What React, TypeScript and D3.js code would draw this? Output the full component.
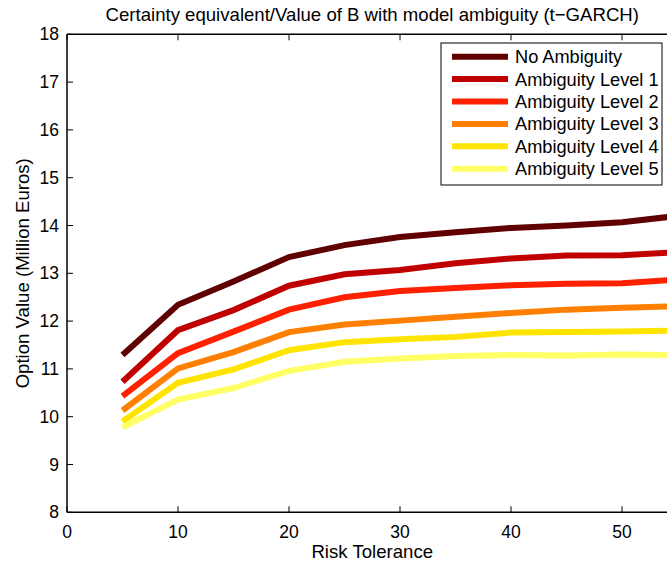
import React from "react";
import * as d3 from "d3";

const riskTolerance = [5, 10, 15, 20, 25, 30, 35, 40, 45, 50, 55];
const noAmbiguity = [11.29, 12.34, 12.83, 13.34, 13.59, 13.76, 13.86, 13.95, 14.0, 14.07, 14.2];
const level1 = [10.73, 11.81, 12.23, 12.74, 12.98, 13.07, 13.21, 13.31, 13.37, 13.38, 13.44];
const level2 = [10.43, 11.33, 11.78, 12.24, 12.5, 12.63, 12.69, 12.75, 12.78, 12.79, 12.87];
const level3 = [10.13, 11.01, 11.35, 11.77, 11.93, 12.01, 12.09, 12.17, 12.24, 12.28, 12.31];
const level4 = [9.9, 10.71, 10.99, 11.39, 11.56, 11.62, 11.67, 11.76, 11.77, 11.78, 11.8];
const level5 = [9.78, 10.36, 10.6, 10.96, 11.15, 11.22, 11.27, 11.29, 11.28, 11.3, 11.29];

const seriesNames = [
  "No Ambiguity",
  "Ambiguity Level 1",
  "Ambiguity Level 2",
  "Ambiguity Level 3",
  "Ambiguity Level 4",
  "Ambiguity Level 5",
];
const seriesValues = [noAmbiguity, level1, level2, level3, level4, level5];
const seriesColors = ["#600000", "#c00000", "#ff2000", "#ff8000", "#ffe400", "#ffff66"];

const xTicks = [0, 10, 20, 30, 40, 50];
const yTicks = [8, 9, 10, 11, 12, 13, 14, 15, 16, 17, 18];

const W = 667;
const H = 567;
const FONT = "'Liberation Sans', Arial, Helvetica, sans-serif";

export default function App() {
  const left = 67;
  const top = 34.3;
  const bottom = 512.3;
  const right = 677.5;
  const x = d3.scaleLinear().domain([0, 55]).range([left, right]);
  const y = d3.scaleLinear().domain([8, 18]).range([bottom, top]);
  const line = d3
    .line<[number, number]>()
    .x((d) => x(d[0]))
    .y((d) => y(d[1]));

  const legX = 441;
  const legY = 43;
  const legW = 221;
  const legH = 142;
  const rowH = 22.4;

  return (
    <svg
      width={W}
      height={H}
      style={{ position: "absolute", left: 0, top: 0, background: "#fff" }}
      fontFamily={FONT}
    >
      <rect x={0} y={0} width={W} height={H} fill="#fff" />
      <text x={(left + right) / 2} y={21} fontSize={18.6} textAnchor="middle" fill="#000">
        Certainty equivalent/Value of B with model ambiguity (t−GARCH)
      </text>

      {seriesValues.map((vals, i) => (
        <path
          key={seriesNames[i]}
          d={line(riskTolerance.map((r, j) => [r, vals[j]]) as [number, number][]) || ""}
          fill="none"
          stroke={seriesColors[i]}
          strokeWidth={6}
          strokeLinejoin="miter"
        />
      ))}

      {/* axes box */}
      <line x1={left} y1={top} x2={left} y2={bottom} stroke="#000" strokeWidth={1.5} />
      <line x1={left} y1={bottom} x2={right} y2={bottom} stroke="#000" strokeWidth={1.5} />
      <line x1={left} y1={top} x2={right} y2={top} stroke="#000" strokeWidth={1.5} />
      <line x1={right} y1={top} x2={right} y2={bottom} stroke="#000" strokeWidth={1.5} />

      {xTicks.map((t) => (
        <g key={"xt" + t}>
          <line x1={x(t)} y1={bottom} x2={x(t)} y2={bottom - 6} stroke="#000" strokeWidth={1} />
          <line x1={x(t)} y1={top} x2={x(t)} y2={top + 6} stroke="#000" strokeWidth={1} />
          <text x={x(t)} y={538} fontSize={17.5} textAnchor="middle" fill="#000">
            {t}
          </text>
        </g>
      ))}
      {yTicks.map((t) => (
        <g key={"yt" + t}>
          <line x1={left} y1={y(t)} x2={left + 6} y2={y(t)} stroke="#000" strokeWidth={1} />
          <line x1={right} y1={y(t)} x2={right - 6} y2={y(t)} stroke="#000" strokeWidth={1} />
          <text x={59} y={y(t)} dy="0.35em" fontSize={17.5} textAnchor="end" fill="#000">
            {t}
          </text>
        </g>
      ))}

      <text x={(left + right) / 2} y={558} fontSize={18.6} textAnchor="middle" fill="#000">
        Risk Tolerance
      </text>
      <text
        transform={`translate(29,${(top + bottom) / 2}) rotate(-90)`}
        fontSize={18.6}
        textAnchor="middle"
        fill="#000"
      >
        Option Value (Million Euros)
      </text>

      {/* legend */}
      <rect x={legX} y={legY} width={legW} height={legH} fill="#fff" stroke="#000" strokeWidth={1} />
      {seriesNames.map((name, i) => {
        const cy = legY + 13.7 + i * rowH;
        return (
          <g key={"leg" + name}>
            <line x1={452} y1={cy} x2={508} y2={cy} stroke={seriesColors[i]} strokeWidth={6} />
            <text x={515} y={cy} dy="0.36em" fontSize={18.2} fill="#000">
              {name}
            </text>
          </g>
        );
      })}
    </svg>
  );
}
